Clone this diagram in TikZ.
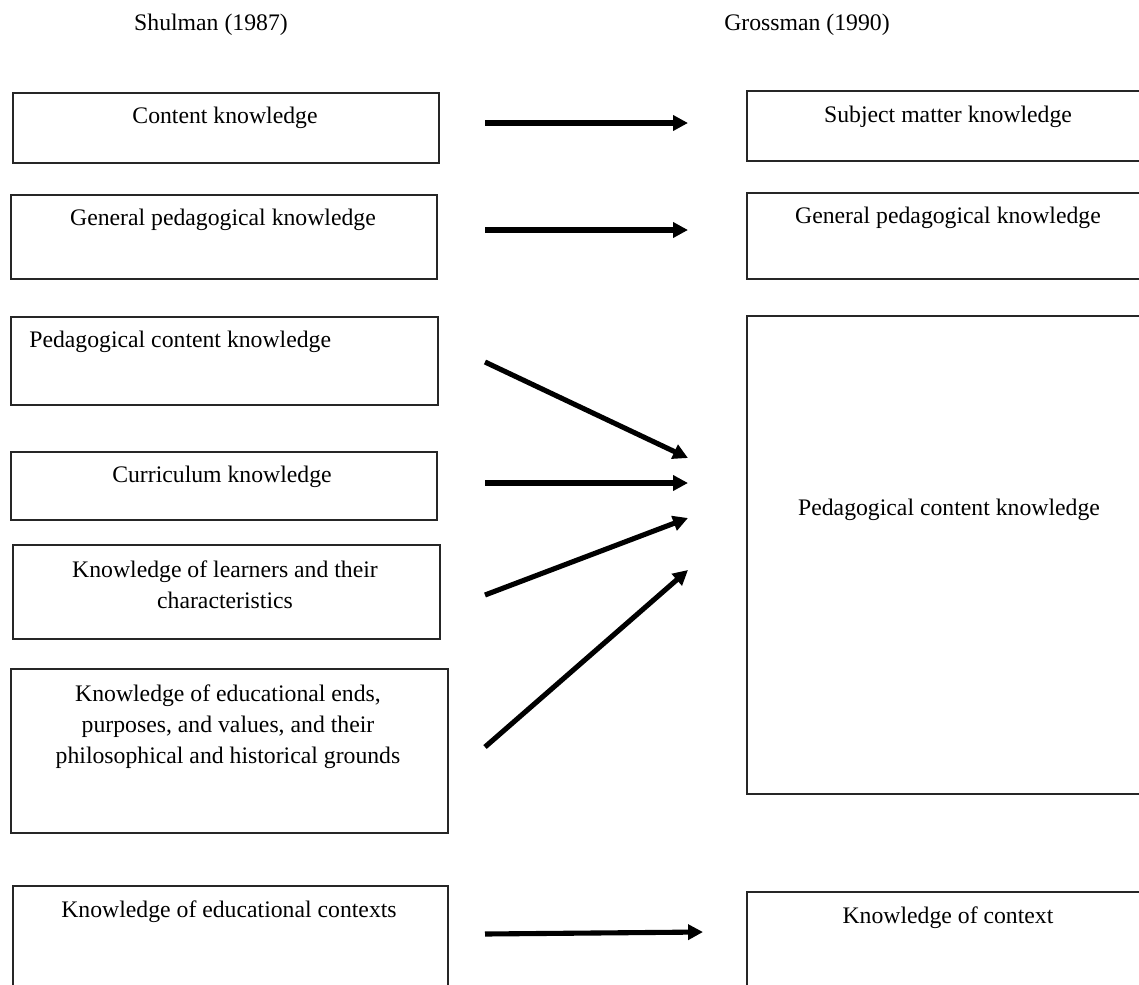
\documentclass[tikz,border=0pt]{standalone}
\usepackage{fontspec}
\setmainfont{Liberation Serif}
\usetikzlibrary{arrows.meta}

\tikzset{
  box/.style 2 args={draw=black!85, line width=1pt, anchor=north west, inner sep=0pt,
    minimum width=#1*0.2mm, minimum height=#2*0.2mm},
  txt/.style={inner sep=0pt, font=\fontsize{13.5}{17.8}\selectfont, align=center},
  arr/.style={line width=2.9pt, -{Triangle[length=8.5pt,width=8.5pt]}}
}

\begin{document}
\begin{tikzpicture}[x=0.2mm,y=-0.2mm]
    \useasboundingbox (0,0) rectangle (1139,984);
    % headings
    \node[txt, anchor=base] (shulman) at (211,30) {Shulman (1987)};
    \node[txt, anchor=base] (grossman) at (807,30) {Grossman (1990)};

    % Shulman (1987)
    \node[box={426}{70}] (ck) at (12,92) {};
    \node[box={426}{84}] (gpk) at (10,194) {};
    \node[box={427}{88}] (pck) at (10,316) {};
    \node[box={426}{68}] (cur) at (10,451) {};
    \node[box={427}{94}] (lrn) at (12,544) {};
    \node[box={437}{164}] (ends) at (10,668) {};
    \node[box={435}{130}] (ctx) at (12,885) {};
    \node[txt, anchor=base] (ck-t) at (225,123) {Content knowledge};
    \node[txt, anchor=base] (gpk-t) at (223,225) {General pedagogical knowledge};
    \node[txt, anchor=base west] (pck-t) at (29,347) {Pedagogical content knowledge};
    \node[txt, anchor=base] (cur-t) at (222,482) {Curriculum knowledge};
    \node[txt, anchor=north] (lrn-t) at (225,560) {Knowledge of learners and their\\characteristics};
    \node[txt, anchor=north] (ends-t) at (228,684) {Knowledge of educational ends,\\purposes, and values, and their\\philosophical and historical grounds};
    \node[txt, anchor=base] (ctx-t) at (229,917) {Knowledge of educational contexts};

    % Grossman (1990)
    \node[box={440}{70}] (smk) at (746,90) {};
    \node[box={440}{86}] (gpk2) at (746,192) {};
    \node[box={440}{478}] (pck2) at (746,315) {};
    \node[box={440}{130}] (koc) at (746,891) {};
    \node[txt, anchor=base] (smk-t) at (948,122) {Subject matter knowledge};
    \node[txt, anchor=base] (gpk2-t) at (948,223) {General pedagogical knowledge};
    \node[txt, anchor=base] (pck2-t) at (949,515) {Pedagogical content knowledge};
    \node[txt, anchor=base] (koc-t) at (948,923) {Knowledge of context};

    % arrow ends
    \coordinate (a1) at (485,123);  \coordinate (b1) at (688,123);
    \coordinate (a2) at (485,230);  \coordinate (b2) at (688,230);
    \coordinate (a3) at (485,362);  \coordinate (b3) at (688,458);
    \coordinate (a4) at (485,483);  \coordinate (b4) at (688,483);
    \coordinate (a5) at (485,595);  \coordinate (b5) at (688,518);
    \coordinate (a6) at (485,747);  \coordinate (b6) at (688,570);
    \coordinate (a7) at (485,934);  \coordinate (b7) at (703,932);
    \foreach \i in {1,...,7}
        \draw[arr] (a\i) -- (b\i);
\end{tikzpicture}
\end{document}
